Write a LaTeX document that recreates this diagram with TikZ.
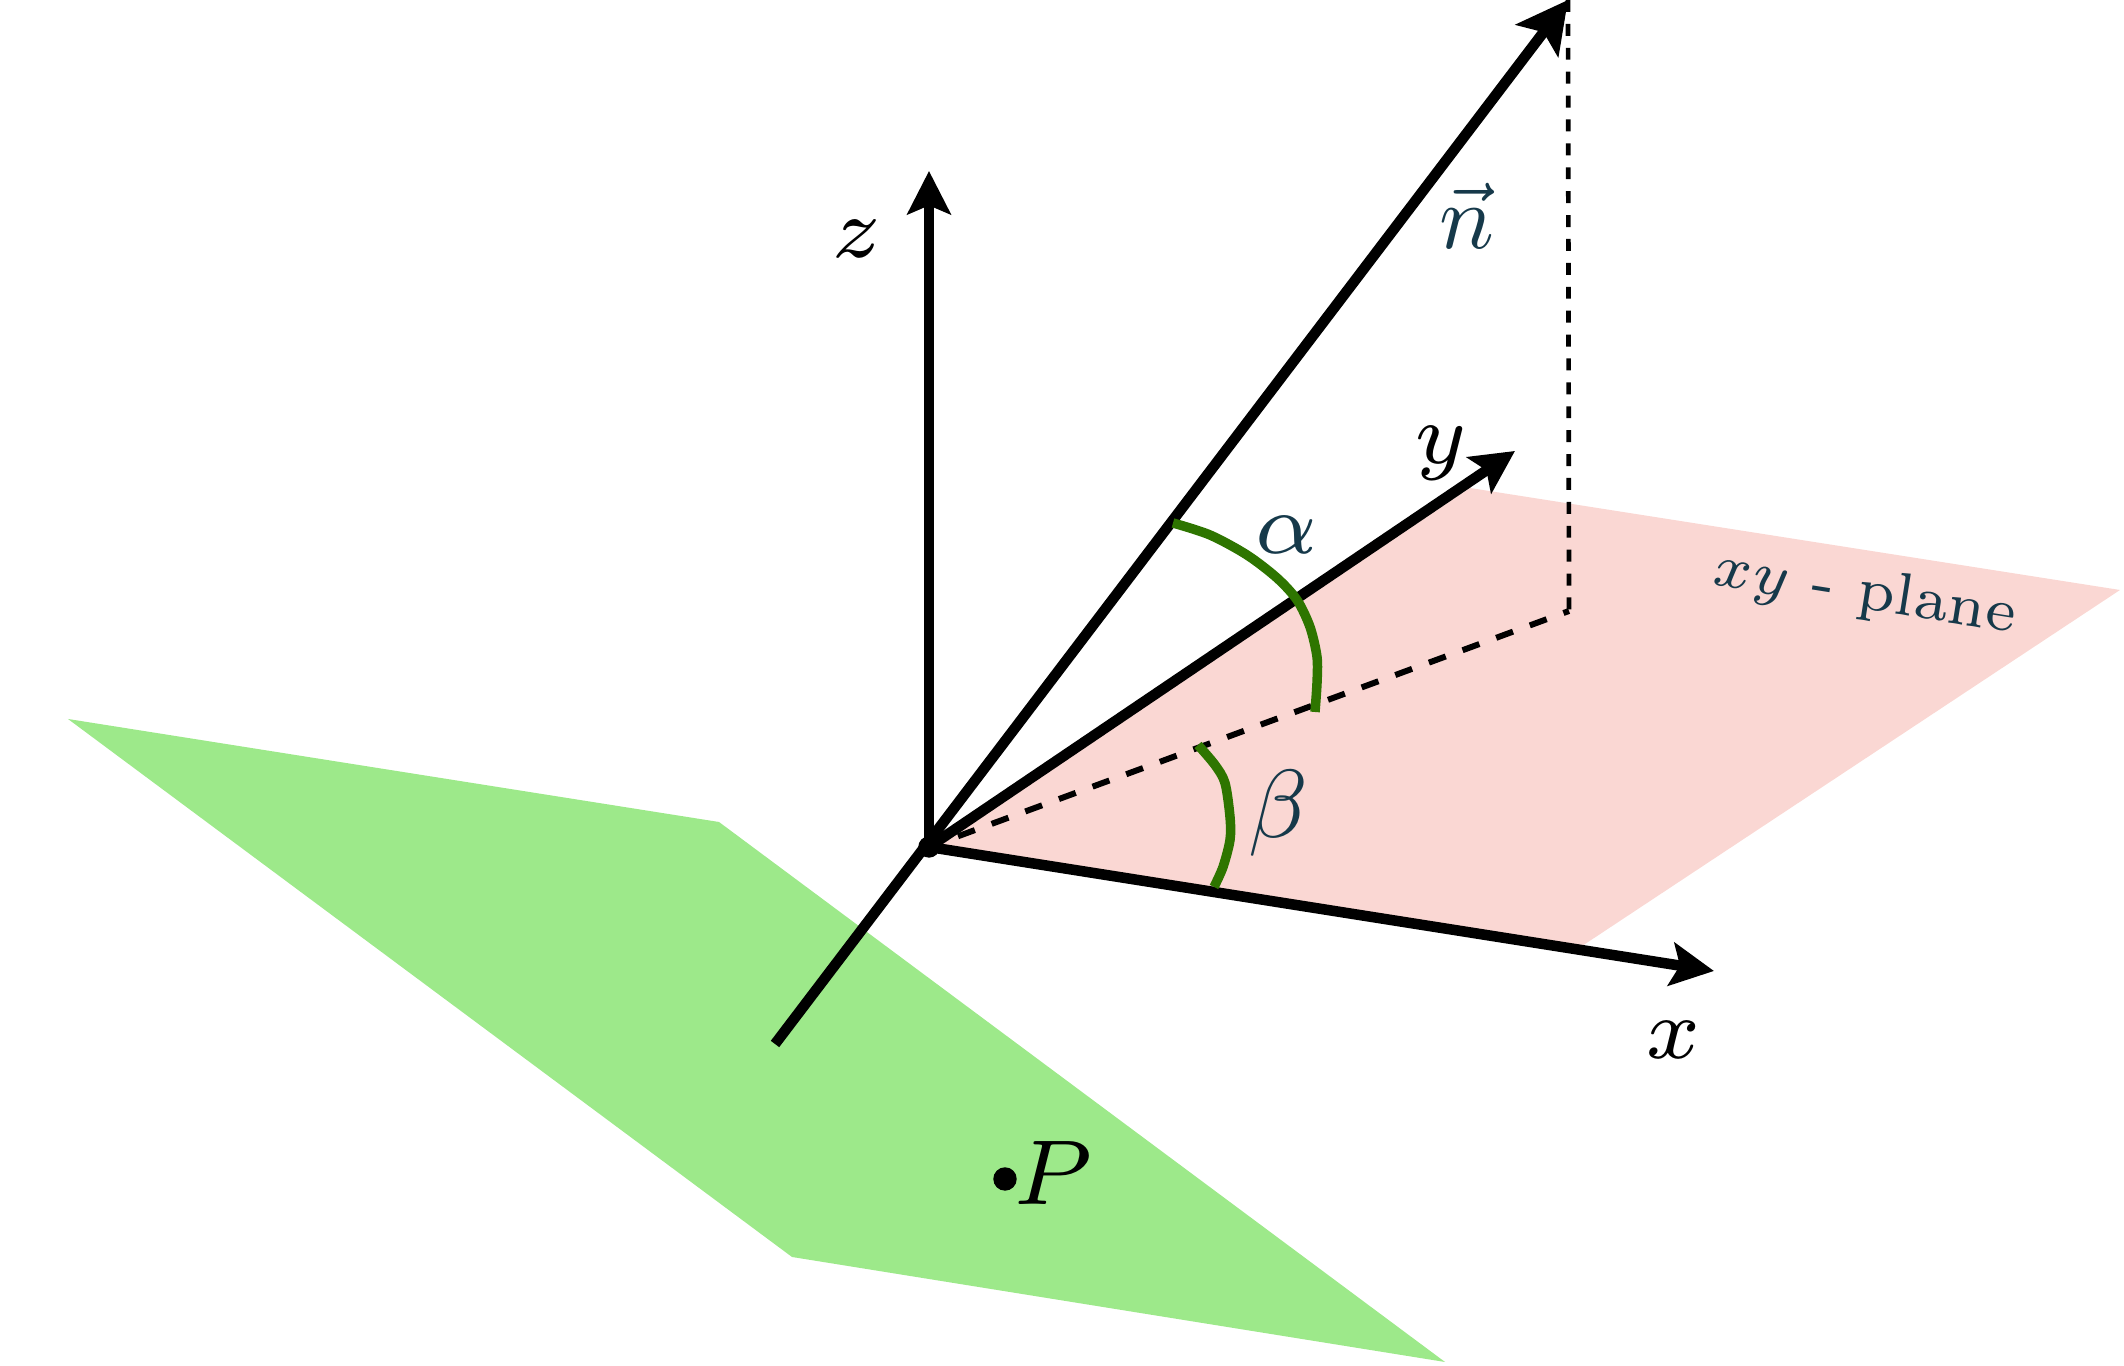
\documentclass[tikz,border=0pt]{standalone}
\usetikzlibrary{arrows.meta}

\definecolor{planepink}{HTML}{FAD7D3}
\definecolor{planegreen}{HTML}{9DE98A}
\definecolor{anglegreen}{HTML}{2E7500}
\definecolor{labelblue}{HTML}{16394A}

\tikzset{
  axisline/.style={line width=3pt, -{Stealth[length=12.3pt, width=12.3pt, inset=2.5pt]}},
  normalline/.style={line width=3pt, -{Stealth[length=14.5pt, width=15pt, inset=3pt]}},
  anglearc/.style={line width=2.7pt, anglegreen},
  dashline/.style={line width=1.33pt, dash pattern=on 3.4pt off 3.4pt},
  slantdash/.style={line width=1.7pt, dash pattern=on 5.1pt off 5.1pt, dash phase=1.4pt},
  blacklabel/.style={scale=3.5},
  bluelabel/.style={scale=3.4, text=labelblue}
}

\begin{document}
\begin{tikzpicture}
\useasboundingbox (0, 0) rectangle (21.24, 13.66);

\coordinate (origin) at (9.29, 5.19);
\coordinate (ztip) at (9.29, 11.95);
\coordinate (ntip) at (15.68, 13.66);
\coordinate (ntail) at (7.75, 3.22);
\coordinate (ytip) at (15.15, 9.15);
\coordinate (xtip) at (17.14, 3.95);
\coordinate (foot) at (15.69, 7.55);

% the two planes
\fill[planepink] (origin) -- (14.70, 8.78) -- (21.20, 7.76) -- (15.76, 4.16) -- cycle;
\fill[planegreen] (0.68, 6.47) -- (7.19, 5.44) -- (14.45, 0.04) -- (7.92, 1.09) -- cycle;

% projection of the normal
\draw[dashline] (ntip) -- (foot);
\draw[slantdash] (origin) -- (foot);

% axes
\draw[axisline] (origin) -- (ztip);
\draw[axisline] (origin) -- (ytip);
\draw[axisline] (origin) -- (xtip);
\draw[normalline] (ntail) -- (ntip);

\filldraw (origin) circle (0.1);
\filldraw (10.05, 1.87) circle (0.11);

% angles
\draw[anglearc] plot[smooth] coordinates {(11.73, 8.43) (12.10, 8.31) (12.47, 8.11) (12.77, 7.88) (12.97, 7.66) (13.10, 7.39) (13.17, 7.09) (13.17, 6.83) (13.15, 6.54)};
\draw[anglearc] plot[smooth] coordinates {(11.98, 6.21) (12.15, 6.01) (12.25, 5.83) (12.30, 5.49) (12.30, 5.26) (12.23, 4.99) (12.14, 4.79)};

\node[blacklabel] (zlabel) at (8.57, 11.27) {$\scriptstyle z$};
\node[blacklabel] (ylabel) at (14.41, 9.13) {$\scriptstyle y$};
\node[blacklabel] (xlabel) at (16.73, 3.26) {$\scriptstyle x$};
\node[blacklabel, scale=1.07] (plabel) at (10.53, 1.93) {$\scriptstyle P$};
\node[text=labelblue, scale=2.6] (nlabel) at (14.67, 11.50) {$\vec{n}$};
\node[bluelabel, scale=1.03] (alphalabel) at (12.86, 8.31) {$\scriptstyle \alpha$};
\node[text=labelblue, scale=2.75] (betalabel) at (12.78, 5.53) {$\beta$};
\node[bluelabel, scale=0.72, rotate=-9] (planelabel) at (18.65, 7.72) {\scriptsize $xy$ - plane};
\end{tikzpicture}
\end{document}
